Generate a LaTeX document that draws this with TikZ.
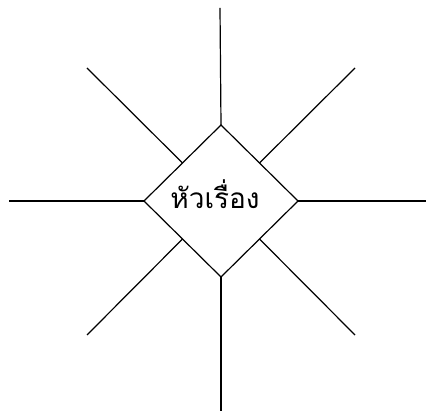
\documentclass[tikz,border=0pt]{standalone}
\usepackage{fontspec}
\newfontfamily\thaifont[Script=Thai]{Loma}
\usetikzlibrary{shapes.geometric,calc}
\tikzset{
  ln/.style={draw=black, line width=1.2pt},
  topic/.style={diamond, draw=black, line width=1.2pt, inner sep=0pt, outer sep=0pt,
    minimum width=154pt, minimum height=152pt},
  lbl/.style={font=\thaifont\fontsize{28}{32}\selectfont, inner sep=0pt}
}
\begin{document}
\begin{tikzpicture}[x=1pt,y=-1pt]
\useasboundingbox (0,0) rectangle (426,411);
\node[topic] (d) at (221,201) {};
\node[lbl] (t) at (215,194) {หัวเรื่อง};
\coordinate (n) at (220,8);
\coordinate (s) at (221,411);
\coordinate (w) at (9,201);
\coordinate (e) at (426,201);
\coordinate (nw) at (87,68);
\coordinate (ne) at (355,68);
\coordinate (sw) at (87,335);
\coordinate (se) at (355,335);
\draw[ln] (n) -- (d.north);
\draw[ln] (s) -- (d.south);
\draw[ln] (w) -- (d.west);
\draw[ln] (e) -- (d.east);
\draw[ln] (nw) -- ($(d.north)!0.5!(d.west)$);
\draw[ln] (ne) -- ($(d.north)!0.5!(d.east)$);
\draw[ln] (sw) -- ($(d.south)!0.5!(d.west)$);
\draw[ln] (se) -- ($(d.south)!0.5!(d.east)$);
\end{tikzpicture}
\end{document}
